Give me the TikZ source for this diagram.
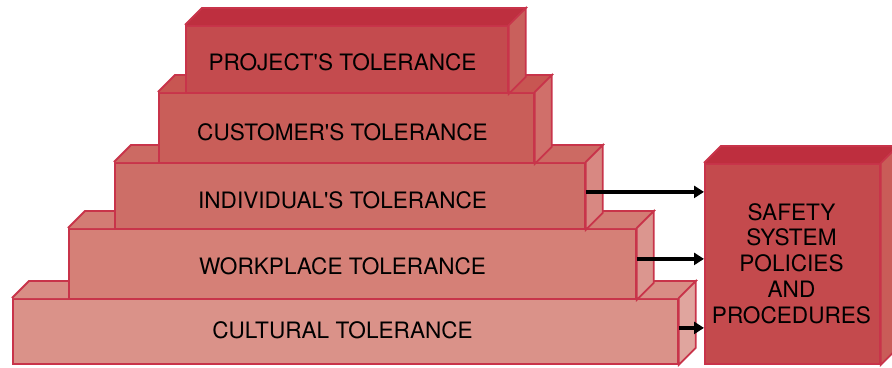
\documentclass[tikz,border=0pt]{standalone}
\usepackage{fontspec}
\setmainfont{TeX Gyre Heros}
\usetikzlibrary{arrows.meta}
\definecolor{edge}{HTML}{C8344A}
\definecolor{pF}{HTML}{C44B4E}\definecolor{pT}{HTML}{BE2F3F}\definecolor{pR}{HTML}{C9605C}
\definecolor{cF}{HTML}{C95E59}\definecolor{cT}{HTML}{C85652}\definecolor{cR}{HTML}{D06F6A}
\definecolor{iF}{HTML}{CD6E67}\definecolor{iT}{HTML}{CC6A63}\definecolor{iR}{HTML}{D88882}
\definecolor{wF}{HTML}{D58077}\definecolor{wT}{HTML}{D37C74}\definecolor{wR}{HTML}{DB968F}
\definecolor{kF}{HTML}{DA9289}\definecolor{kT}{HTML}{D98D85}\definecolor{kR}{HTML}{E0A59E}
\definecolor{sF}{HTML}{C44A4D}\definecolor{sT}{HTML}{BE2E3E}\definecolor{sR}{HTML}{C95C58}
\tikzset{
  face/.style={draw=edge, line width=1.8pt, line join=miter},
  front/.style={face, rectangle, inner sep=0pt, anchor=north west},
  lbl/.style={font=\fontsize{22.6}{25.8}\selectfont, text=black, inner sep=0pt, align=center},
  arr/.style={line width=4.5pt, -{Triangle[length=10pt,width=12pt]}},
}
\newcommand{\blockfaces}[3]{% node, top colour, right colour
  \fill[#2] (#1.north west) -- ++(17,-17) -- ([shift={(17,-17)}]#1.north east) -- (#1.north east) -- cycle;
  \draw[face] (#1.north west) -- ++(17,-17) -- ([shift={(17,-17)}]#1.north east) -- (#1.north east);
  \filldraw[face, fill=#3] (#1.north east) -- ++(17,-17) -- ([shift={(17,-17)}]#1.south east) -- (#1.south east) -- cycle;
}
\begin{document}
\begin{tikzpicture}[x=1pt,y=-1pt]
\useasboundingbox (0,0) rectangle (892,367);
% cultural
\node[front, fill=kF, minimum width=665pt, minimum height=65pt] (cul) at (12,298) {};
\blockfaces{cul}{kT}{kR}
% workplace
\node[front, fill=wF, minimum width=567pt, minimum height=70pt] (wor) at (68,228) {};
\blockfaces{wor}{wT}{wR}
% individual
\node[front, fill=iF, minimum width=470pt, minimum height=66pt] (ind) at (114,162) {};
\blockfaces{ind}{iT}{iR}
% customer
\node[front, fill=cF, minimum width=375pt, minimum height=70pt] (cus) at (158,92) {};
\blockfaces{cus}{cT}{cR}
% project
\node[front, fill=pF, minimum width=322pt, minimum height=67pt] (pro) at (185,25) {};
\blockfaces{pro}{pT}{pR}
% safety
\node[front, fill=sF, minimum width=175pt, minimum height=200pt] (saf) at (704,163) {};
\blockfaces{saf}{sT}{sR}
% texts
\node[lbl] (tpro) at (342.5,62) {PROJECT\textquotesingle S TOLERANCE};
\node[lbl] (tcus) at (342.5,132) {CUSTOMER\textquotesingle S TOLERANCE};
\node[lbl] (tind) at (342.5,200) {INDIVIDUAL\textquotesingle S TOLERANCE};
\node[lbl] (twor) at (342.5,266.5) {WORKPLACE TOLERANCE};
\node[lbl] (tcul) at (342.5,330.5) {CULTURAL TOLERANCE};
\node[lbl] (tsaf) at (791.5,263.5) {SAFETY\\SYSTEM\\POLICIES\\AND\\PROCEDURES};
% arrows
\draw[arr] ([yshift=4]ind.east) -- ([yshift=4]ind.east -| saf.west);
\draw[arr] ([yshift=5]wor.east) -- ([yshift=5]wor.east -| saf.west);
\draw[arr] ([yshift=3.5]cul.east) -- ([yshift=3.5]cul.east -| saf.west);
\end{tikzpicture}
\end{document}
